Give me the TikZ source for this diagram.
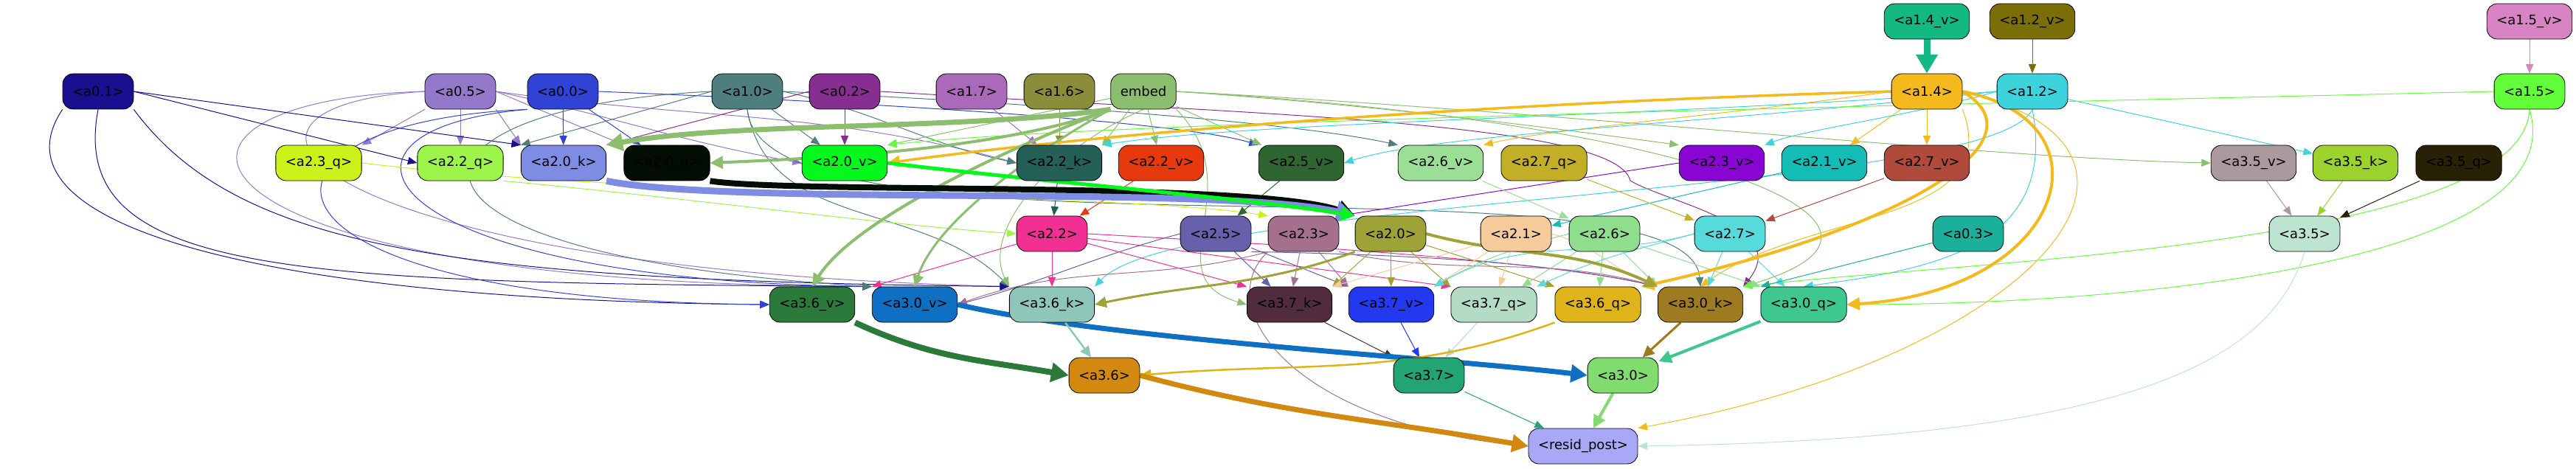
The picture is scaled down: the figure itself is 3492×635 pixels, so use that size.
\documentclass[tikz,border=0pt]{standalone}
\usepackage{fontspec}
\setmainfont{DejaVu Sans}
\usetikzlibrary{arrows.meta,backgrounds}
\definecolor{c01}{HTML}{1A108F}
\definecolor{c05}{HTML}{9478C9}
\definecolor{c00}{HTML}{3143D4}
\definecolor{c10}{HTML}{4F7E7E}
\definecolor{c02}{HTML}{862F90}
\definecolor{c17}{HTML}{AB69B9}
\definecolor{c16}{HTML}{8A8E3B}
\definecolor{cem}{HTML}{8DBE6F}
\definecolor{c14}{HTML}{F4BA1D}
\definecolor{c12}{HTML}{3DD3DD}
\definecolor{c15}{HTML}{63FE3A}
\definecolor{c14v}{HTML}{14B882}
\definecolor{c12v}{HTML}{7A6E08}
\definecolor{c15v}{HTML}{D884C4}
\definecolor{c23q}{HTML}{CBF21B}
\definecolor{c22q}{HTML}{9DF44A}
\definecolor{c20k}{HTML}{7E8DE3}
\definecolor{c20q}{HTML}{030D03}
\definecolor{c20v}{HTML}{05F81C}
\definecolor{c22k}{HTML}{245F58}
\definecolor{c22v}{HTML}{E63A0E}
\definecolor{c25v}{HTML}{2F6531}
\definecolor{c26v}{HTML}{9BDE95}
\definecolor{c27q}{HTML}{C2AE27}
\definecolor{c23v}{HTML}{8905D4}
\definecolor{c21v}{HTML}{13BDB6}
\definecolor{c27v}{HTML}{B04B3C}
\definecolor{c35v}{HTML}{AA9A9D}
\definecolor{c35k}{HTML}{9BD22D}
\definecolor{c35q}{HTML}{282105}
\definecolor{c22}{HTML}{F23093}
\definecolor{c25}{HTML}{6661AA}
\definecolor{c23}{HTML}{A5708E}
\definecolor{c20}{HTML}{9FA236}
\definecolor{c21}{HTML}{F5CB9C}
\definecolor{c26}{HTML}{8FDE8E}
\definecolor{c27}{HTML}{57DADA}
\definecolor{c03}{HTML}{1BB09C}
\definecolor{c35}{HTML}{BDE4D0}
\definecolor{c36v}{HTML}{2C7A3B}
\definecolor{c30v}{HTML}{0E6FC3}
\definecolor{c36k}{HTML}{8EC6B9}
\definecolor{c37k}{HTML}{502C3C}
\definecolor{c37v}{HTML}{2239F0}
\definecolor{c37q}{HTML}{B3DBC6}
\definecolor{c36q}{HTML}{DEB41A}
\definecolor{c30k}{HTML}{9E7A20}
\definecolor{c30q}{HTML}{3EC88F}
\definecolor{c36}{HTML}{D3880F}
\definecolor{c37}{HTML}{22A474}
\definecolor{c30}{HTML}{80DC6E}
\definecolor{cres}{HTML}{A8A8F7}
\begin{document}
\begin{tikzpicture}[x=1pt,y=1pt,every node/.style={box},
                    box/.style={draw=black, line width=0.8pt, rounded corners=14pt, minimum height=48pt, inner xsep=13pt, font=\fontsize{18}{21}\selectfont, text=black},
                    wire/.style={draw=#1, line width=1pt, -{Triangle[length={11pt 1.6}, width={8pt 2.2}]}}]
\useasboundingbox (0,0) rectangle (3492,635);
\node[fill=c14v] (a14v) at (2612,606) {<a1.4\_v>};
\node[fill=c12v] (a12v) at (2755,606) {<a1.2\_v>};
\node[fill=c15v] (a15v) at (3429,606) {<a1.5\_v>};
\node[fill=c01] (a01) at (133,511) {<a0.1>};
\node[fill=c05] (a05) at (624,511) {<a0.5>};
\node[fill=c00] (a00) at (763,511) {<a0.0>};
\node[fill=c10] (a10) at (1013,511) {<a1.0>};
\node[fill=c02] (a02) at (1145,511) {<a0.2>};
\node[fill=c17] (a17) at (1317,511) {<a1.7>};
\node[fill=c16] (a16) at (1436,511) {<a1.6>};
\node[fill=cem] (embed) at (1550,511) {embed};
\node[fill=c14] (a14) at (2612,511) {<a1.4>};
\node[fill=c12] (a12) at (2755,511) {<a1.2>};
\node[fill=c15] (a15) at (3429,511) {<a1.5>};
\node[fill=c23q] (a23q) at (432,414) {<a2.3\_q>};
\node[fill=c22q] (a22q) at (624,414) {<a2.2\_q>};
\node[fill=c20k] (a20k) at (764,414) {<a2.0\_k>};
\node[fill=c20q] (a20q) at (904,414) {<a2.0\_q>};
\node[fill=c20v] (a20v) at (1145,414) {<a2.0\_v>};
\node[fill=c22k] (a22k) at (1436,414) {<a2.2\_k>};
\node[fill=c22v] (a22v) at (1574,414) {<a2.2\_v>};
\node[fill=c25v] (a25v) at (1764,414) {<a2.5\_v>};
\node[fill=c26v] (a26v) at (1953,414) {<a2.6\_v>};
\node[fill=c27q] (a27q) at (2093,414) {<a2.7\_q>};
\node[fill=c23v] (a23v) at (2334,414) {<a2.3\_v>};
\node[fill=c21v] (a21v) at (2473,414) {<a2.1\_v>};
\node[fill=c27v] (a27v) at (2612,414) {<a2.7\_v>};
\node[fill=c35v] (a35v) at (3055,414) {<a3.5\_v>};
\node[fill=c35k] (a35k) at (3193,414) {<a3.5\_k>};
\node[fill=c35q] (a35q) at (3333,414) {<a3.5\_q>};
\node[fill=c22] (a22) at (1426,318) {<a2.2>};
\node[fill=c25] (a25) at (1648,318) {<a2.5>};
\node[fill=c23] (a23) at (1767,318) {<a2.3>};
\node[fill=c20] (a20) at (1885,318) {<a2.0>};
\node[fill=c21] (a21) at (2055,318) {<a2.1>};
\node[fill=c26] (a26) at (2175,318) {<a2.6>};
\node[fill=c27] (a27) at (2345,318) {<a2.7>};
\node[fill=c03] (a03) at (2668,318) {<a0.3>};
\node[fill=c35] (a35) at (3124,318) {<a3.5>};
\node[fill=c36v] (a36v) at (1101,222) {<a3.6\_v>};
\node[fill=c30v] (a30v) at (1240,222) {<a3.0\_v>};
\node[fill=c36k] (a36k) at (1426,222) {<a3.6\_k>};
\node[fill=c37k] (a37k) at (1748,222) {<a3.7\_k>};
\node[fill=c37v] (a37v) at (1886,222) {<a3.7\_v>};
\node[fill=c37q] (a37q) at (2025,222) {<a3.7\_q>};
\node[fill=c36q] (a36q) at (2166,222) {<a3.6\_q>};
\node[fill=c30k] (a30k) at (2305,222) {<a3.0\_k>};
\node[fill=c30q] (a30q) at (2445,222) {<a3.0\_q>};
\node[fill=c36] (a36) at (1497,126) {<a3.6>};
\node[fill=c37] (a37) at (1937,126) {<a3.7>};
\node[fill=c30] (a30) at (2200,126) {<a3.0>};
\node[fill=cres] (resid) at (2146,30) {<resid\_post>};
\begin{scope}[on background layer]
\draw[wire=c05] (a05.south west) -- (a23q.north east);
\draw[wire=c05] (a05) -- (a22q);
\draw[wire=c05] (a05.south east) -- (a20k.north west);
\draw[wire=c05] (a05.east) -- (a20q.north west);
\draw[wire=c05] (a05.east) to[out=-12,in=170] (a20v.west);
\draw[wire=c05] (a05.east) to[out=-8,in=165] (a22k.west);
\draw[wire=c05] (a05.west) .. controls (150,500) and (200,250) .. (a30v.north west);
\draw[wire=c05] (a05.west) .. controls (230,490) and (420,270) .. (a36k.north west);
\draw[wire=c01] (a01.east) -- (a22q.west);
\draw[wire=c01] (a01.east) -- (a20k.north west);
\draw[wire=c01] (a01.south west) .. controls (-20,330) and (350,228) .. (a36v.west);
\draw[wire=c01] (a01.south) .. controls (90,260) and (400,252) .. (a30v.north west);
\draw[wire=c01] (a01.south east) .. controls (320,300) and (600,255) .. (a36k.north west);
\draw[wire=c00] (a00) -- (a20k);
\draw[wire=c00] (a00) -- (a20q);
\draw[wire=c00] (a00.east) .. controls (1200,495) and (1600,470) .. (a25v.north west);
\draw[wire=c00] (a00.south west) .. controls (300,470) and (300,228) .. (a36v.west);
\draw[wire=c00] (a00.south west) .. controls (400,460) and (500,255) .. (a30v.north west);
\draw[wire=c10] (a10.west) -- (a20k.north west);
\draw[wire=c10] (a10) -- (a20v);
\draw[wire=c10] (a10.east) to[out=-12,in=168] (a22k.west);
\draw[wire=c10] (a10.east) .. controls (1400,495) and (1750,470) .. (a26v.north west);
\draw[wire=c10] (a10.south) to[out=-80,in=135] (a36k.north west);
\draw[wire=c10] (a10.west) .. controls (520,490) and (470,290) .. (a30v.north west);
\draw[wire=c10] (a10.south) .. controls (1030,260) and (2290,440) .. (a30k.north);
\draw[wire=c02] (a02) -- (a20v);
\draw[wire=c02] (a02.west) -- (a20k.north east);
\draw[wire=c02] (a02.east) .. controls (1700,480) and (2190,470) .. (2210,390) .. controls (2260,360) and (2430,330) .. (a30k.north east);
\draw[wire=c17] (a17) -- (a22k);
\draw[wire=c16] (a16) -- (a22k);
\draw[wire=cem] (embed) -- (a20v.north east);
\draw[wire=cem] (embed) -- (a22k.north east);
\draw[wire=cem] (embed) -- (a22v);
\draw[wire=cem] (embed) -- (a25v);
\draw[wire=cem] (embed.east) .. controls (1900,490) and (2150,455) .. (a23v.north west);
\draw[wire=cem] (embed.east) .. controls (2100,485) and (2700,420) .. (a35v.west);
\draw[wire=cem] (embed.south) .. controls (1420,430) and (1330,320) .. (a36k.north west);
\draw[wire=cem] (embed.south east) .. controls (1700,380) and (1560,260) .. (a37k.west);
\draw[wire=cem] (embed.east) .. controls (2300,470) and (2650,330) .. (a30k.north east);
\draw[wire=c14] (a14) -- (a21v);
\draw[wire=c14] (a14) -- (a27v);
\draw[wire=c14] (a14.west) .. controls (2350,480) and (2100,460) .. (a26v.north east);
\draw[wire=c14] (a14.east) .. controls (3000,430) and (2750,150) .. (resid.north east);
\draw[wire=c14] (a14.south east) .. controls (2720,330) and (2450,350) .. (a30k.north);
\draw[wire=c12v] (a12v) -- (a12);
\draw[wire=c12] (a12) -- (a35k);
\draw[wire=c12] (a12.west) .. controls (2300,465) and (1950,455) .. (a25v.east);
\draw[wire=c12] (a12.west) .. controls (2600,480) and (2450,460) .. (a23v.north east);
\draw[wire=c12] (a12.west) .. controls (2200,475) and (1700,470) .. (a22k.north east);
\draw[wire=c12] (a12.south) .. controls (2700,370) and (1600,370) .. (a36k.north east);
\draw[wire=c12] (a12.south) .. controls (2790,300) and (2620,270) .. (a30q.north);
\draw[wire=c15v] (a15v) -- (a15);
\draw[wire=c15] (a15.south) .. controls (3490,280) and (2900,222) .. (a30q.east);
\draw[wire=c15] (a15.south) .. controls (3420,300) and (2650,280) .. (a30k.north east);
\draw[wire=c15] (a15.west) .. controls (2500,490) and (1500,470) .. (a20v.north east);
\draw[wire=c22k] (a22k) -- (a22);
\draw[wire=c22v] (a22v) -- (a22);
\draw[wire=c22q] (a22q.south east) .. controls (900,370) and (1200,330) .. (a22.west);
\draw[wire=c23q] (a23q.east) .. controls (900,365) and (1500,375) .. (a23.north west);
\draw[wire=c25v] (a25v) -- (a25);
\draw[wire=c23v] (a23v.west) -- (a23.north east);
\draw[wire=c21v] (a21v) -- (a21);
\draw[wire=c26v] (a26v) -- (a26);
\draw[wire=c27q] (a27q) -- (a27);
\draw[wire=c27v] (a27v) -- (a27);
\draw[wire=c35v] (a35v) -- (a35);
\draw[wire=c35k] (a35k) -- (a35);
\draw[wire=c35q] (a35q) -- (a35);
\draw[wire=c22] (a22) -- (a36k);
\draw[wire=c22] (a22) -- (a30v.north west);
\draw[wire=c22] (a22) -- (a37k.north west);
\draw[wire=c22] (a22) -- (a37q.north west);
\draw[wire=c22] (a22.east) .. controls (1800,300) and (2100,280) .. (a30k.north west);
\draw[wire=c25] (a25) -- (a37k);
\draw[wire=c25] (a25) -- (a37v.north west);
\draw[wire=c25] (a25.west) to[out=195,in=15] (a30v.east);
\draw[wire=c25] (a25.south east) .. controls (1900,290) and (2100,280) .. (a30k.north west);
\draw[wire=c23] (a23) -- (a37k);
\draw[wire=c23] (a23) -- (a37v.north west);
\draw[wire=c23] (a23.south west) to[out=195,in=20] (a30v.east);
\draw[wire=c23] (a23.south west) .. controls (1640,220) and (1750,60) .. (resid.west);
\draw[wire=c23] (a23.south east) to[out=-12,in=165] (a30k.north west);
\draw[wire=c20] (a20) -- (a37k.north east);
\draw[wire=c20] (a20) -- (a37v);
\draw[wire=c20] (a20) -- (a37q.north west);
\draw[wire=c20] (a20) -- (a36q.north west);
\draw[wire=c21] (a21) -- (a37q);
\draw[wire=c21] (a21) -- (a37k.north east);
\draw[wire=c21] (a21) -- (a37v.north east);
\draw[wire=c21] (a21.east) to[out=-15,in=160] (a30k.north west);
\draw[wire=c26] (a26) -- (a36q);
\draw[wire=c26] (a26) -- (a37q);
\draw[wire=c26] (a26) -- (a30k.north west);
\draw[wire=c26] (a26) -- (a30q.north west);
\draw[wire=c26] (a26.west) to[out=195,in=30] (a37v.north east);
\draw[wire=c27] (a27) -- (a30k);
\draw[wire=c27] (a27) -- (a30q);
\draw[wire=c27] (a27.west) to[out=195,in=25] (a37q.north east);
\draw[wire=c27] (a27.west) to[out=195,in=30] (a37v.north east);
\draw[wire=c03] (a03) -- (a30q.north west);
\draw[wire=c37k] (a37k) -- (a37);
\draw[wire=c37v] (a37v) -- (a37);
\draw[wire=c37q] (a37q) -- (a37);
\draw[wire=c37] (a37) -- (resid);
\draw[wire=c35] (a35.south) .. controls (3080,150) and (2900,40) .. (resid.east);
\draw[wire=c14v, line width=9pt] (a14v) -- (a14);
\draw[wire=c14, line width=3.5pt] (a14.west) .. controls (2000,495) and (1500,455) .. (a20v.east);
\draw[wire=c14, line width=4pt] (a14.east) .. controls (2870,470) and (2800,240) .. (a30q.east);
\draw[wire=c14, line width=4pt] (a14.east) .. controls (2780,440) and (2560,320) .. (a36q.north east);
\draw[wire=cem, line width=7pt] (embed.south west) .. controls (1300,458) and (1000,470) .. (a20k.north east);
\draw[wire=cem, line width=4pt] (embed.south west) .. controls (1350,430) and (1100,420) .. (a20q.east);
\draw[wire=cem, line width=4pt] (embed.south west) .. controls (1380,440) and (1160,340) .. (a36v.north);
\draw[wire=cem, line width=3pt] (embed.south west) .. controls (1420,440) and (1270,340) .. (a30v.north);
\draw[wire=c20q, line width=8pt] (a20q.south east) .. controls (1080,372) and (1700,390) .. (a20.north west);
\draw[wire=c20k, line width=9pt] (a20k.south east) .. controls (1000,355) and (1650,385) .. (a20.north west);
\draw[wire=c20v, line width=5pt] (a20v.east) .. controls (1400,390) and (1700,365) .. (a20.north west);
\draw[wire=c20, line width=3pt] (a20.south west) to[out=200,in=12] (a36k.east);
\draw[wire=c20, line width=4pt] (a20.east) to[out=-15,in=155] (a30k.north west);
\draw[wire=c36v, line width=8pt] (a36v.south east) to[out=-25,in=170] (a36.west);
\draw[wire=c30v, line width=7pt] (a30v.east) .. controls (1500,175) and (1950,150) .. (a30.west);
\draw[wire=c36k, line width=2.5pt] (a36k) -- (a36);
\draw[wire=c36q, line width=2.5pt] (a36q.south west) to[out=200,in=5] (a36.east);
\draw[wire=c30k, line width=3pt] (a30k) -- (a30);
\draw[wire=c30q, line width=4pt] (a30q) -- (a30);
\draw[wire=c36, line width=7pt] (a36.east) to[out=-15,in=170] (resid.west);
\draw[wire=c30, line width=4pt] (a30) -- (resid);
\end{scope}
\end{tikzpicture}
\end{document}
